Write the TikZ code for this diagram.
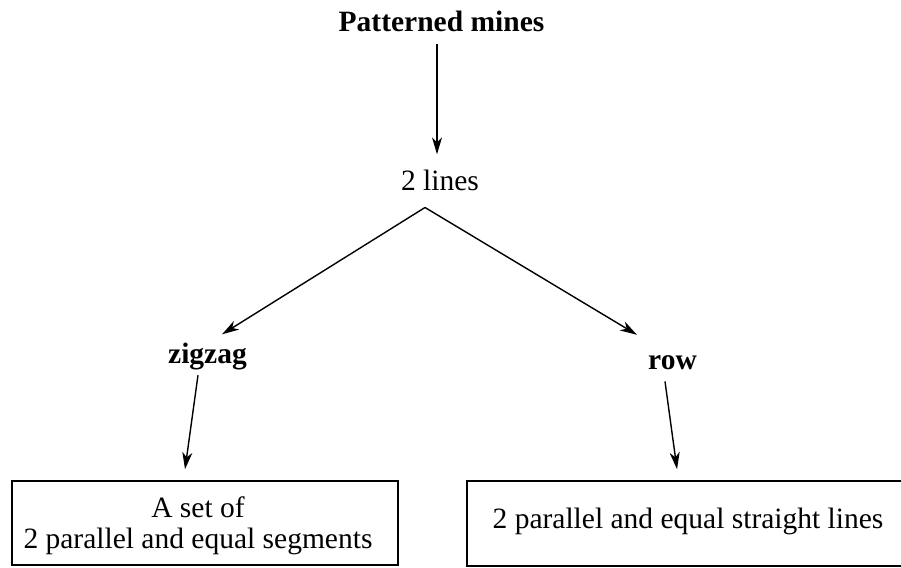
\documentclass[tikz,border=0pt]{standalone}
\usepackage{fontspec}
\setmainfont{Liberation Serif}
\usetikzlibrary{arrows.meta,calc}
\begin{document}
\begin{tikzpicture}[x=1pt,y=-1pt,
  lbl/.style={inner sep=0pt,font=\fontsize{29.5}{31}\selectfont},
  box/.style={draw,line width=1.5pt,inner sep=0pt},
  arr/.style={line width=1.4pt,-{Stealth[length=17pt,width=10pt,inset=5pt]}}]
\useasboundingbox (0,0) rectangle (901,567);
\node[lbl,anchor=base] (top) at (441.5,32) {\bfseries Patterned mines};
\node[lbl,anchor=base] (lines) at (440,190) {2 lines};
\node[lbl,anchor=base] (zig) at (207.5,363) {\bfseries zigzag};
\node[lbl,anchor=base] (row) at (672.5,369) {\bfseries row};
\node[box,minimum width=386pt,minimum height=84pt] (b1) at (205,523) {};
\node[box,minimum width=443pt,minimum height=85pt] (b2) at (688.5,523.5) {};
\node[lbl,align=center,anchor=north] (t1) at (198,497) {A set of\\2 parallel and equal segments};
\node[lbl,anchor=base] (t2) at (688,528) {2 parallel and equal straight lines};
\coordinate (apex) at ($(lines.south)+(-15,17)$);
\draw[arr] ($(top.south)+(-4.5,12)$) -- ($(lines.north)+(-3,-15)$);
\draw[arr] (apex) -- ($(zig.north)+(14.5,-8)$);
\draw[arr] (apex) -- ($(row.north)+(-35.5,-20)$);
\draw[arr] ($(zig.south)+(-9.5,5.5)$) -- ($(b1.north)+(-20,-11)$);
\draw[arr] ($(row.south)+(-7.5,12)$) -- ($(b2.north)+(-11.5,-11)$);
\end{tikzpicture}
\end{document}
